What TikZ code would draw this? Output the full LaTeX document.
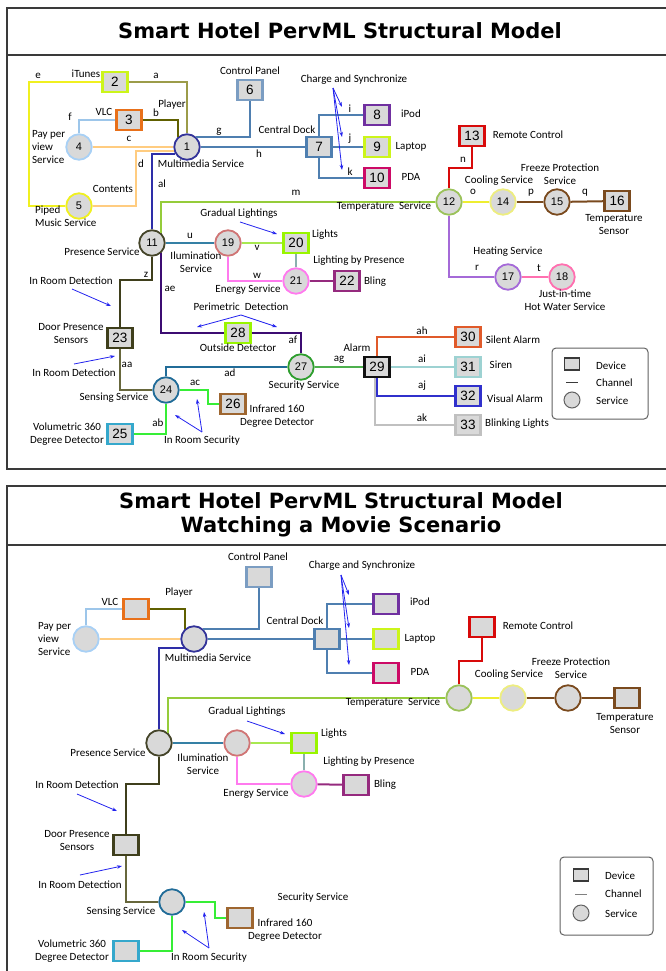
\documentclass[tikz,border=0pt]{standalone}
\usepackage{fontspec}
\setmainfont{Carlito}
\newfontfamily\numfont{Liberation Sans}
\newfontfamily\headfont{DejaVu Sans}
\usetikzlibrary{arrows.meta}

% outline colours of devices, services and channels
\definecolor{boxfill}{HTML}{D9D9D9}
\definecolor{framec}{HTML}{3A3A3A}
\definecolor{notec}{HTML}{2323EE}
\definecolor{mediac}{HTML}{333399}
\definecolor{itunesc}{HTML}{CCF51A}
\definecolor{vlcc}{HTML}{E8701A}
\definecolor{payc}{HTML}{A8D0F5}
\definecolor{pipedc}{HTML}{F0F020}
\definecolor{panelc}{HTML}{7B9DC2}
\definecolor{dockc}{HTML}{4F7FB0}
\definecolor{ipodc}{HTML}{7030A0}
\definecolor{pdac}{HTML}{CC0A66}
\definecolor{presc}{HTML}{45452A}
\definecolor{tempc}{HTML}{9BC25A}
\definecolor{mlinec}{HTML}{95CC3A}
\definecolor{remotec}{HTML}{D80A0A}
\definecolor{coolc}{HTML}{EDED80}
\definecolor{olinec}{HTML}{EEEE30}
\definecolor{freezec}{HTML}{7A4A1E}
\definecolor{heatc}{HTML}{A56AD8}
\definecolor{hotc}{HTML}{FF70B0}
\definecolor{illumc}{HTML}{D07575}
\definecolor{ulinec}{HTML}{3580A5}
\definecolor{vlinec}{HTML}{A8E850}
\definecolor{lightc}{HTML}{99F500}
\definecolor{energyc}{HTML}{FF7AEE}
\definecolor{duoc}{HTML}{8AB0AE}
\definecolor{blingc}{HTML}{952A7E}
\definecolor{doorc}{HTML}{3F3F1C}
\definecolor{aalinec}{HTML}{67673C}
\definecolor{sensec}{HTML}{216C98}
\definecolor{volc}{HTML}{35A8CC}
\definecolor{irc}{HTML}{9E6630}
\definecolor{securec}{HTML}{2E9E2E}
\definecolor{aglinec}{HTML}{4DB04D}
\definecolor{perimc}{HTML}{3C0C72}
\definecolor{allinec}{HTML}{2E2EA8}
\definecolor{alinec}{HTML}{9C9C4A}
\definecolor{blinec}{HTML}{606000}
\definecolor{peachc}{HTML}{FFCC80}
\definecolor{flinec}{HTML}{9DC6EA}
\definecolor{brightc}{HTML}{36EE36}
\definecolor{silentc}{HTML}{E05A2A}
\definecolor{sirenc}{HTML}{9DD2D2}
\definecolor{visualc}{HTML}{3030CC}
\definecolor{blinkc}{HTML}{C0C0C0}
\definecolor{alarmc}{HTML}{111111}

\newcommand\lblfont{\fontsize{11}{13}\selectfont}
\newcommand\devfont{\numfont\fontsize{13.5}{13.5}\selectfont}
\newcommand\srvfont{\numfont\fontsize{11}{11}\selectfont}
\newcommand\headtitle{\headfont\bfseries\fontsize{21}{24}\selectfont}

\begin{document}
\begin{tikzpicture}[x=1pt, y=-1pt,
  dev/.style={draw=#1, fill=boxfill, line width=2.3pt, minimum width=25pt,
    minimum height=20pt, inner sep=0pt, font=\devfont},
  srv/.style={draw=#1, fill=boxfill, line width=1.8pt, circle, minimum size=25.5pt,
    inner sep=0pt, font=\srvfont},
  chn/.style={draw=#1, line width=2pt},
  lbl/.style={font=\lblfont, inner sep=0pt, align=center},
  note/.style={draw=notec, line width=0.8pt, -{Stealth[length=5pt, width=3.5pt]}},
  frame/.style={draw=framec, line width=1.2pt},
  heading/.style={font=\headtitle, align=center, inner sep=0pt},
  keybox/.style={draw=framec!80, line width=1pt, rounded corners=4pt},
  keydev/.style={draw=framec, fill=boxfill, line width=1.3pt, minimum width=15pt,
    minimum height=12pt, inner sep=0pt},
  keysrv/.style={circle, draw=framec!80, fill=boxfill, line width=1pt,
    minimum size=16pt, inner sep=0pt}]
\useasboundingbox (0,0) rectangle (665,971);

%%%%%%%%%%%%%%%% full structural model %%%%%%%%%%%%%%%%
\draw[frame] (680,8) -| (7,469) -- (680,469);
\draw[frame] (7,55) -- (680,55);
\node[heading] (head1) at (340,31) {Smart Hotel PervML Structural Model};

% devices
\node[dev=itunesc] (n2) at (115,82) {2};
\node[dev=vlcc] (n3) at (129,120) {3};
\node[dev=panelc] (n6) at (250,90) {6};
\node[dev=dockc] (n7) at (319,147) {7};
\node[dev=ipodc] (n8) at (377,115) {8};
\node[dev=itunesc] (n9) at (377,147) {9};
\node[dev=pdac] (n10) at (377,178) {10};
\node[dev=remotec] (n13) at (472,136) {13};
\node[dev=freezec] (n16) at (617,201) {16};
\node[dev=lightc] (n20) at (296,243) {20};
\node[dev=blingc] (n22) at (347,281) {22};
\node[dev=doorc] (n23) at (120,338) {23};
\node[dev=volc] (n25) at (120,434) {25};
\node[dev=irc] (n26) at (233,404) {26};
\node[dev=lightc] (n28) at (238,333) {28};
\node[dev=alarmc] (n29) at (377,367) {29};
\node[dev=silentc] (n30) at (468,337) {30};
\node[dev=sirenc] (n31) at (468,367) {31};
\node[dev=visualc] (n32) at (468,396) {32};
\node[dev=blinkc] (n33) at (468,425) {33};
% services
\node[srv=mediac] (n1) at (187,147) {1};
\node[srv=payc] (n4) at (79,147) {4};
\node[srv=pipedc] (n5) at (79,206) {5};
\node[srv=presc] (n11) at (152,243) {11};
\node[srv=tempc] (n12) at (449,202) {12};
\node[srv=coolc] (n14) at (503,202) {14};
\node[srv=freezec] (n15) at (557,202) {15};
\node[srv=heatc] (n17) at (508,277) {17};
\node[srv=hotc] (n18) at (562,277) {18};
\node[srv=illumc] (n19) at (228,243) {19};
\node[srv=energyc] (n21) at (296,281) {21};
\node[srv=sensec] (n24) at (166,390) {24};
\node[srv=securec] (n27) at (301,367) {27};

% channels
\draw[chn=alinec] (n2.east) -| (n1.north);
\draw[chn=blinec] (n3.east) -| (n1.130);
\draw[chn=peachc] (n4) -- (n1);
\draw[chn=peachc] (n1.195) -| (136,206) -- (n5);
\draw[chn=pipedc] (n2.west) -| (29,206) -- (n5);
\draw[chn=flinec] (n3.west) -| (n4.north);
\draw[chn=dockc] (n1.50) -| (n6.south);
\draw[chn=dockc] (n1) -- (n7);
\draw[chn=dockc] (n7.north) |- (n8);
\draw[chn=dockc] (n7) -- (n9);
\draw[chn=dockc] (n7.south) |- (n10);
\draw[chn=allinec] (n1.212) -| (n11.north);
\draw[chn=mlinec] (n12.west) -| (n11.50);
\draw[chn=remotec] (n13.south) -- (472,168) -| (n12.north);
\draw[chn=olinec] (n12) -- (n14);
\draw[chn=freezec] (n14) -- (n15);
\draw[chn=freezec] (n15) -- (n16);
\draw[chn=heatc] (n12.south) |- (n17);
\draw[chn=hotc] (n17) -- (n18);
\draw[chn=ulinec] (n11) -- (n19);
\draw[chn=vlinec] (n19) -- (n20);
\draw[chn=energyc] (n19.south) |- (n21);
\draw[chn=duoc] (n20) -- (n21);
\draw[chn=blingc] (n21) -- (n22);
\draw[chn=doorc] (n11.south) -- (152,280) -| (n23.north);
\draw[chn=perimc] (n11.-50) |- (n28);
\draw[chn=perimc] (n28) -| (n27.north);
\draw[chn=aalinec] (n23.south) |- (n24);
\draw[chn=sensec] (n27) -| (n24.north);
\draw[chn=aglinec] (n27) -- (n29);
\draw[chn=brightc] (n24.east) -| (208,404) -- (n26);
\draw[chn=brightc] (n24.south) |- (n25);
\draw[chn=silentc] (n29.north) |- (n30);
\draw[chn=sirenc] (n29) -- (n31);
\draw[chn=blinkc] ([xshift=-2pt]n29.south) |- (n33);
\draw[chn=visualc] (n29.south) |- (n32);

% channel names
\node[lbl] (ca) at (156,76) {a};
\node[lbl] (cb) at (156,113) {b};
\node[lbl] (cc) at (129,139) {c};
\node[lbl] (cd) at (141,164) {d};
\node[lbl] (ce) at (38,76) {e};
\node[lbl] (cf) at (70,117) {f};
\node[lbl] (cg) at (219,132) {g};
\node[lbl] (ch) at (259,154) {h};
\node[lbl] (ci) at (350,109) {i};
\node[lbl] (cj) at (350,139) {j};
\node[lbl] (ck) at (350,172) {k};
\node[lbl] (cm) at (296,193) {m};
\node[lbl] (cn) at (463,160) {n};
\node[lbl] (co) at (473,192) {o};
\node[lbl] (cp) at (531,193) {p};
\node[lbl] (cq) at (585,193) {q};
\node[lbl] (cr) at (477,268) {r};
\node[lbl] (ct) at (539,268) {t};
\node[lbl] (cu) at (190,236) {u};
\node[lbl] (cv) at (257,248) {v};
\node[lbl] (cw) at (257,276) {w};
\node[lbl] (cz) at (146,275) {z};
\node[lbl] (cal) at (162,184) {al};
\node[lbl] (cae) at (170,289) {ae};
\node[lbl] (caf) at (293,340) {af};
\node[lbl] (caa) at (127,365) {aa};
\node[lbl] (cad) at (230,373) {ad};
\node[lbl] (cac) at (195,383) {ac};
\node[lbl] (cab) at (158,423) {ab};
\node[lbl] (cag) at (339,360) {ag};
\node[lbl] (cah) at (422,331) {ah};
\node[lbl] (cai) at (422,359) {ai};
\node[lbl] (caj) at (422,386) {aj};
\node[lbl] (cak) at (422,418) {ak};

% element names
\node[lbl] (lit) at (86,74) {iTunes};
\node[lbl] (lvlc) at (104,112) {VLC};
\node[lbl] (lplayer) at (172,105) {Player};
\node[lbl, anchor=west, align=left] (lpay) at (32,147) {Pay per\\view\\Service};
\node[lbl] (lmedia) at (201,164) {Multimedia Service};
\node[lbl] (lcont) at (113,189) {Contents};
\node[lbl, anchor=west, align=left] (lpiped) at (35,216) {Piped\\Music Service};
\node[lbl] (lpanel) at (250,71) {Control Panel};
\node[lbl] (ldock) at (287,130) {Central Dock};
\node[lbl] (lsync) at (354,80) {Charge and Synchronize};
\node[lbl] (lipod) at (411,114) {iPod};
\node[lbl] (llap) at (411,147) {Laptop};
\node[lbl] (lpda) at (411,177) {PDA};
\node[lbl] (lremote) at (528,135) {Remote Control};
\node[lbl] (lcool) at (499,181) {Cooling Service};
\node[lbl] (lfreeze) at (560,174.5) {Freeze Protection\\Service};
\node[lbl] (ltemp) at (384,207) {Temperature\ \ Service};
\node[lbl] (lsensor) at (614,224.5) {Temperature\\Sensor};
\node[lbl] (lheat) at (508,252) {Heating Service};
\node[lbl] (lhot) at (565,300.5) {Just-in-time\\Hot Water Service};
\node[lbl] (lgrad) at (239,214) {Gradual Lightings};
\node[lbl] (llights) at (325,235) {Lights};
\node[lbl] (lpres) at (102,252) {Presence Service};
\node[lbl] (lillum) at (196,262.5) {Ilumination\\Service};
\node[lbl] (lbypres) at (359,261) {Lighting by Presence};
\node[lbl] (lbling) at (375,282) {Bling};
\node[lbl] (lenergy) at (248,290) {Energy Service};
\node[lbl] (ldet1) at (71,281) {In Room Detection};
\node[lbl] (ldoor) at (71,334) {Door Presence\\Sensors};
\node[lbl] (ldet2) at (74,373) {In Room Detection};
\node[lbl] (lperim) at (241,307) {Perimetric\ \ Detection};
\node[lbl] (lout) at (238,348) {Outside Detector};
\node[lbl] (lsense) at (114,398) {Sensing Service};
\node[lbl] (lsecure) at (304,386) {Security Service};
\node[lbl] (lalarm) at (357,348) {Alarm};
\node[lbl] (lir) at (277,416) {Infrared 160\\Degree Detector};
\node[lbl] (lvol) at (67,434.5) {Volumetric 360\\Degree Detector};
\node[lbl] (lsec) at (202,441) {In Room Security};
\node[lbl] (lsilent) at (513,340) {Silent Alarm};
\node[lbl] (lsiren) at (501,365) {Siren};
\node[lbl] (lvisual) at (515,399) {Visual Alarm};
\node[lbl] (lblink) at (517,424) {Blinking Lights};

% notes
\coordinate (sync0) at (333,88);
\coordinate (sync1) at (342,107);
\coordinate (sync2) at (342,137);
\coordinate (sync3) at (342,170);
\foreach \t in {sync1,sync2,sync3}
  \draw[note] (sync0) -- (\t);
\coordinate (grad0) at (240,222);
\coordinate (grad1) at (277,234);
\draw[note] (grad0) -- (grad1);
\coordinate (det1a) at (72,289);
\coordinate (det1b) at (111,306);
\draw[note] (det1a) -- (det1b);
\coordinate (det2a) at (74,364);
\coordinate (det2b) at (115,356);
\draw[note] (det2a) -- (det2b);
\coordinate (perim0) at (241,315);
\coordinate (perim1) at (197,327);
\coordinate (perim2) at (277,327);
\draw[note] (perim0) -- (perim1);
\draw[note] (perim0) -- (perim2);
\coordinate (sec0) at (202,432);
\coordinate (sec1) at (197,399);
\coordinate (sec2) at (175,415);
\draw[note] (sec0) -- (sec1);
\draw[note] (sec0) -- (sec2);

% key
\draw[keybox] (552,348) rectangle (648,419);
\node[keydev] (kdev) at (572,364) {};
\node[lbl, anchor=west] (kdevt) at (596,366) {Device};
\draw[draw=framec, line width=1pt] (566,382) -- (578,382);
\node[lbl, anchor=west] (kchnt) at (596,383) {Channel};
\node[keysrv] (ksrv) at (572,400) {};
\node[lbl, anchor=west] (ksrvt) at (596,401) {Service};

%%%%%%%%%%%%%%%% watching a movie %%%%%%%%%%%%%%%%
\draw[frame] (680,486) -| (7,980);
\draw[frame] (7,545) -- (680,545);
\node[heading] (head2) at (341,515) {Smart Hotel PervML Structural Model\\Watching a Movie Scenario};

% devices
\node[dev=vlcc] (m3) at (136,609) {};
\node[dev=panelc] (m6) at (259,577) {};
\node[dev=dockc] (m7) at (327,639) {};
\node[dev=ipodc] (m8) at (386,604) {};
\node[dev=itunesc] (m9) at (386,639) {};
\node[dev=pdac] (m10) at (386,673) {};
\node[dev=remotec] (m13) at (482,627) {};
\node[dev=freezec] (m16) at (627,698) {};
\node[dev=lightc] (m20) at (304,743) {};
\node[dev=blingc] (m22) at (356,785) {};
\node[dev=doorc] (m23) at (126,845) {};
\node[dev=volc] (m25) at (126,951) {};
\node[dev=irc] (m26) at (240,918) {};
% services
\node[srv=mediac] (m1) at (194,639) {};
\node[srv=payc] (m4) at (86,639) {};
\node[srv=presc] (m11) at (159,743) {};
\node[srv=tempc] (m12) at (459,698) {};
\node[srv=coolc] (m14) at (513,698) {};
\node[srv=freezec] (m15) at (568,698) {};
\node[srv=illumc] (m19) at (237,743) {};
\node[srv=energyc] (m21) at (304,784) {};
\node[srv=sensec] (m24) at (172,902) {};

% channels
\draw[chn=flinec] (m3.west) -| (m4.north);
\draw[chn=blinec] (m3.east) -| (m1.130);
\draw[chn=peachc] (m4) -- (m1);
\draw[chn=dockc] (m1.50) -| (m6.south);
\draw[chn=dockc] (m1) -- (m7);
\draw[chn=dockc] (m7.north) |- (m8);
\draw[chn=dockc] (m7) -- (m9);
\draw[chn=dockc] (m7.south) |- (m10);
\draw[chn=allinec] (m1.220) -| (m11.north);
\draw[chn=mlinec] (m12.west) -| (m11.50);
\draw[chn=remotec] (m13.south) -- (482,661) -| (m12.north);
\draw[chn=olinec] (m12) -- (m14);
\draw[chn=freezec] (m14) -- (m15);
\draw[chn=freezec] (m15) -- (m16);
\draw[chn=ulinec] (m11) -- (m19);
\draw[chn=vlinec] (m19) -- (m20);
\draw[chn=energyc] (m19.south) |- (m21);
\draw[chn=duoc] (m20) -- (m21);
\draw[chn=blingc] (m21) -- (m22);
\draw[chn=doorc] (m11.south) -- (159,784) -| (m23.north);
\draw[chn=aalinec] (m23.south) |- (m24);
\draw[chn=brightc] (m24.east) -| (215,918) -- (m26);
\draw[chn=brightc] (m24.south) |- (m25);

% element names
\node[lbl] (mlpanel) at (258,557) {Control Panel};
\node[lbl] (mlsync) at (362,566) {Charge and Synchronize};
\node[lbl] (mlvlc) at (110,602) {VLC};
\node[lbl] (mlplayer) at (179,593) {Player};
\node[lbl, anchor=west, align=left] (mlpay) at (38,639) {Pay per\\view\\Service};
\node[lbl] (mlmedia) at (208,658) {Multimedia Service};
\node[lbl] (mldock) at (295,621) {Central Dock};
\node[lbl] (mlipod) at (420,602) {iPod};
\node[lbl] (mllap) at (420,639) {Laptop};
\node[lbl] (mlpda) at (420,672) {PDA};
\node[lbl] (mlremote) at (538,626) {Remote Control};
\node[lbl] (mlcool) at (509,675) {Cooling Service};
\node[lbl] (mlfreeze) at (571,668.5) {Freeze Protection\\Service};
\node[lbl] (mltemp) at (393,703) {Temperature\ \ Service};
\node[lbl] (mlsensor) at (625,724) {Temperature\\Sensor};
\node[lbl] (mlgrad) at (247,712) {Gradual Lightings};
\node[lbl] (mllights) at (334,734) {Lights};
\node[lbl] (mlbypres) at (369,762) {Lighting by Presence};
\node[lbl] (mlbling) at (385,785) {Bling};
\node[lbl] (mlpres) at (108,753) {Presence Service};
\node[lbl] (mlillum) at (203,764.5) {Ilumination\\Service};
\node[lbl] (mlenergy) at (256,794) {Energy Service};
\node[lbl] (mldet1) at (77,785) {In Room Detection};
\node[lbl] (mldoor) at (77,841) {Door Presence\\Sensors};
\node[lbl] (mldet2) at (80,885) {In Room Detection};
\node[lbl] (mlsense) at (121,912) {Sensing Service};
\node[lbl] (mlsecure) at (313,898) {Security Service};
\node[lbl] (mlir) at (285,930) {Infrared 160\\Degree Detector};
\node[lbl] (mlvol) at (72,951) {Volumetric 360\\Degree Detector};
\node[lbl] (mlsec) at (209,958) {In Room Security};

% notes
\coordinate (msync0) at (341,575);
\coordinate (msync1) at (349,595);
\coordinate (msync2) at (349,628);
\coordinate (msync3) at (349,665);
\foreach \t in {msync1,msync2,msync3}
  \draw[note] (msync0) -- (\t);
\coordinate (mgrad0) at (247,721);
\coordinate (mgrad1) at (285,734);
\draw[note] (mgrad0) -- (mgrad1);
\coordinate (mdet1a) at (77,794);
\coordinate (mdet1b) at (117,811);
\draw[note] (mdet1a) -- (mdet1b);
\coordinate (mdet2a) at (80,875);
\coordinate (mdet2b) at (122,866);
\draw[note] (mdet2a) -- (mdet2b);
\coordinate (msec0) at (209,948);
\coordinate (msec1) at (204,912);
\coordinate (msec2) at (182,930);
\draw[note] (msec0) -- (msec1);
\draw[note] (msec0) -- (msec2);

% key
\draw[keybox] (560,857) rectangle (653,935);
\node[keydev] (mkdev) at (581,875) {};
\node[lbl, anchor=west] (mkdevt) at (605,876) {Device};
\draw[draw=gray, line width=1pt] (575,894) -- (587,894);
\node[lbl, anchor=west] (mkchnt) at (605,894) {Channel};
\node[keysrv] (mksrv) at (581,913) {};
\node[lbl, anchor=west] (mksrvt) at (605,914) {Service};
\end{tikzpicture}
\end{document}
